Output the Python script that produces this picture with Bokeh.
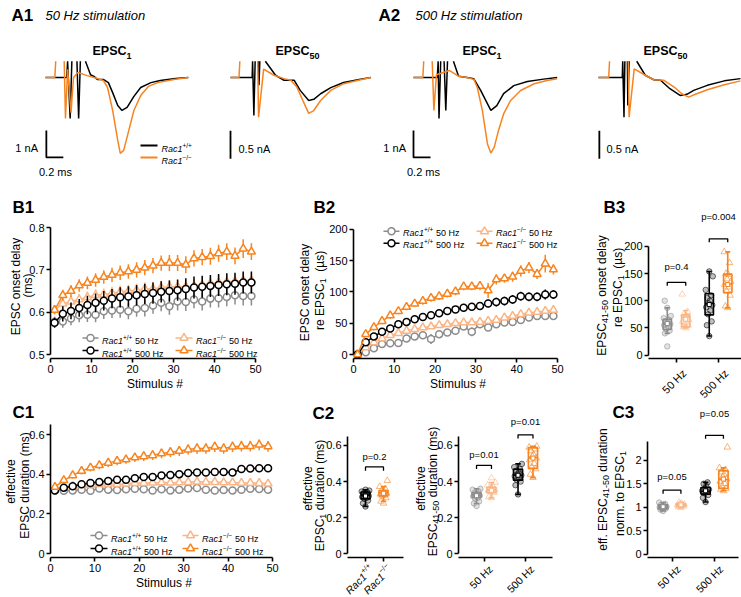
import numpy as np
from math import cos, sin, pi
from bokeh.plotting import figure
from bokeh.models import Label, Range1d, FixedTicker, GridBox
from bokeh.layouts import row, column
from bokeh.embed import file_html
from bokeh.resources import INLINE

nan = float("nan")

# ---------------- A: example EPSC traces (time in ms, current in nA) ----------------
A1_E1_T_WT = [0, 0.25, 0.26, 0.29, 0.31, nan, 0.37, 0.39, 0.41, nan, 0.47, 0.53, 0.57, 0.61, 0.68, 0.74, 0.79, 0.85, 0.90, 0.96, 1.04, 1.12, 1.24, 1.35, 1.53, 1.68]
A1_E1_I_WT = [0, 0, 0.6, -1.52, 0.6, nan, 0.6, -1.52, 0.6, nan, 0.6, 0.1, 0.04, -0.07, -0.07, -0.19, -0.56, -1.04, -1.22, -1.11, -0.70, -0.37, -0.19, -0.11, -0.04, 0]
A1_E1_T_KO = [0, 0.11, 0.12, nan, 0.22, 0.235, 0.26, 0.30, 0.33, 0.38, 0.49, 0.61, 0.68, 0.73, 0.79, 0.85, 0.88, 0.92, 0.98, 1.04, 1.12, 1.21, 1.32, 1.51, 1.68]
A1_E1_I_KO = [0, 0, 0.6, nan, 0.6, -1.52, 0.3, -1.3, 0.0, 0.19, 0.07, -0.04, -0.11, -0.37, -1.22, -2.33, -2.81, -2.70, -1.96, -1.22, -0.67, -0.33, -0.19, -0.07, 0]

A1_E50_T_WT = [0, 0.255, 0.26, 0.275, 0.29, nan, 0.33, 0.335, 0.345, nan, 0.41, 0.53, 0.63, 0.75, 0.82, 0.92, 0.98, 1.06, 1.18, 1.33, 1.53, 1.65]
A1_E50_I_WT = [0, 0, 0.29, -0.68, 0.29, nan, 0.29, -0.14, 0.29, nan, 0.29, 0.04, -0.05, -0.05, -0.23, -0.41, -0.39, -0.29, -0.18, -0.09, -0.03, 0]
A1_E50_T_KO = [0, 0.10, 0.11, nan, 0.32, 0.33, 0.39, 0.51, 0.63, 0.71, 0.78, 0.86, 0.92, 0.98, 1.06, 1.18, 1.33, 1.53, 1.65]
A1_E50_I_KO = [0, 0, 0.29, nan, 0.29, -0.71, 0.15, 0.04, -0.02, -0.05, -0.17, -0.44, -0.64, -0.59, -0.41, -0.23, -0.11, -0.04, 0]

A2_E1_T_WT = [0, 0.28, 0.29, 0.30, 0.32, nan, 0.36, 0.38, 0.40, nan, 0.47, 0.53, 0.63, 0.71, 0.79, 0.91, 0.98, 1.06, 1.18, 1.34, 1.53, 1.69]
A2_E1_I_WT = [0, 0, 0.6, -1.52, 0.6, nan, 0.6, -1.22, 0.6, nan, 0.6, 0.05, 0, -0.05, -0.48, -1.22, -1.04, -0.60, -0.30, -0.15, -0.06, 0]
A2_E1_T_KO = [0, 0.11, 0.12, nan, 0.22, 0.24, 0.27, 0.42, 0.53, 0.63, 0.71, 0.75, 0.81, 0.87, 0.91, 0.95, 1.00, 1.06, 1.14, 1.26, 1.42, 1.57, 1.69]
A2_E1_I_KO = [0, 0, 0.6, nan, 0.6, -1.22, 0.1, 0.26, 0.05, 0, -0.07, -0.36, -1.22, -2.46, -2.80, -2.58, -1.96, -1.35, -0.86, -0.48, -0.23, -0.11, -0.05]

A2_E50_T_WT = [0, 0.28, 0.285, 0.30, 0.31, nan, 0.34, 0.345, 0.36, nan, 0.45, 0.55, 0.65, 0.73, 0.84, 0.96, 1.04, 1.12, 1.28, 1.48, 1.67]
A2_E50_I_WT = [0, 0, 0.29, -0.71, 0.29, nan, 0.29, -0.5, 0.29, nan, 0.29, 0.04, -0.04, -0.05, -0.20, -0.32, -0.30, -0.23, -0.14, -0.06, -0.02]
A2_E50_T_KO = [0, 0.12, 0.13, nan, 0.35, 0.36, 0.42, 0.55, 0.65, 0.77, 0.89, 0.98, 1.06, 1.14, 1.28, 1.48, 1.67]
A2_E50_I_KO = [0, 0, 0.29, nan, 0.29, -0.71, 0.155, 0.04, -0.04, -0.05, -0.17, -0.29, -0.35, -0.30, -0.22, -0.13, -0.06]

SCALE_T = 0.2      # ms
SCALE_I1 = 1.0     # nA
SCALE_I50 = 0.5    # nA

# ---------------- B1 / B2 / C1: time courses (mean, SEM) ----------------
STIM = list(range(1, 50, 2))

B1_WT50 = [0.577, 0.578, 0.585, 0.593, 0.594, 0.594, 0.602, 0.604, 0.606, 0.602, 0.608, 0.610, 0.616, 0.622, 0.614, 0.625, 0.624, 0.630, 0.625, 0.632, 0.633, 0.636, 0.640, 0.638, 0.638]
B1_KO50 = [0.605, 0.620, 0.625, 0.630, 0.635, 0.640, 0.642, 0.645, 0.648, 0.650, 0.652, 0.655, 0.655, 0.658, 0.660, 0.660, 0.660, 0.662, 0.665, 0.668, 0.670, 0.672, 0.673, 0.675, 0.675]
B1_WT500 = [0.575, 0.596, 0.603, 0.610, 0.617, 0.622, 0.627, 0.632, 0.635, 0.637, 0.640, 0.643, 0.645, 0.648, 0.650, 0.652, 0.655, 0.658, 0.660, 0.662, 0.664, 0.666, 0.667, 0.670, 0.670]
B1_KO500 = [0.605, 0.640, 0.650, 0.663, 0.669, 0.676, 0.683, 0.688, 0.693, 0.696, 0.700, 0.705, 0.710, 0.716, 0.716, 0.716, 0.712, 0.727, 0.730, 0.732, 0.739, 0.743, 0.733, 0.750, 0.743]
B1_WT50_E = [0.012, 0.015, 0.016, 0.017, 0.017, 0.018, 0.018, 0.018, 0.019, 0.019, 0.019, 0.020, 0.020, 0.020, 0.020, 0.021, 0.021, 0.021, 0.021, 0.021, 0.022, 0.022, 0.022, 0.022, 0.022]
B1_KO50_E = [0.010, 0.012, 0.013, 0.013, 0.014, 0.014, 0.014, 0.015, 0.015, 0.015, 0.015, 0.015, 0.016, 0.016, 0.016, 0.016, 0.016, 0.016, 0.017, 0.017, 0.017, 0.017, 0.017, 0.017, 0.017]
B1_WT500_E = [0.012, 0.018, 0.020, 0.021, 0.022, 0.022, 0.023, 0.023, 0.024, 0.024, 0.024, 0.024, 0.025, 0.025, 0.025, 0.025, 0.025, 0.026, 0.026, 0.026, 0.026, 0.026, 0.026, 0.026, 0.026]
B1_KO500_E = [0.010, 0.013, 0.014, 0.015, 0.015, 0.016, 0.016, 0.017, 0.017, 0.017, 0.018, 0.018, 0.018, 0.018, 0.019, 0.019, 0.020, 0.019, 0.019, 0.020, 0.020, 0.020, 0.020, 0.022, 0.020]

B2_WT50 = [0, 3.7, 10, 16.8, 17.9, 18.4, 25.8, 29, 31, 24.7, 32.6, 35.3, 37.9, 44.8, 36.4, 48.5, 43.2, 48.5, 51.2, 52.2, 55.4, 59.1, 61.7, 61.7, 61.7]
B2_KO50 = [0, 11.5, 19.5, 25.8, 31, 34.2, 37.9, 40.5, 43.2, 44.8, 46.9, 48.5, 50.1, 51.2, 51.2, 52.2, 53.8, 55.4, 59.1, 61.7, 64.4, 67, 68, 69.6, 71.2]
B2_WT500 = [0, 19.6, 29, 36.4, 41.6, 48.5, 52.2, 56.4, 60, 62.7, 65.9, 69.5, 72.2, 74.8, 76.4, 77.5, 81.7, 83.8, 85.4, 88, 93.3, 92.2, 92.2, 95.9, 95.9]
B2_KO500 = [0, 32.6, 43.6, 53.5, 62.4, 69.3, 76, 81.3, 85.5, 90.3, 93, 97, 100.7, 108.6, 108.6, 109.7, 102.4, 120, 121.7, 124.3, 133.7, 139, 128.6, 145.3, 135.9]
B2_WT50_E = [0, 2, 3, 3, 3, 4, 4, 4, 4, 8, 4, 4, 4, 5, 7, 5, 5, 5, 5, 5, 5, 5, 5, 6, 6]
B2_KO50_E = [0, 2, 2, 3, 3, 3, 3, 3, 3, 3, 3, 3, 3, 3, 3, 3, 4, 4, 4, 4, 4, 4, 4, 4, 4]
B2_WT500_E = [0, 3, 4, 4, 4, 4, 4, 5, 5, 5, 5, 5, 5, 6, 6, 6, 6, 7, 7, 7, 7, 7, 7, 8, 7]
B2_KO500_E = [0, 4, 5, 5, 5, 5, 5, 5, 6, 6, 6, 6, 6, 6, 6, 7, 12, 8, 7, 8, 9, 9, 8, 14, 8]

C1_WT50 = [0.318, 0.316, 0.318, 0.322, 0.316, 0.328, 0.322, 0.320, 0.324, 0.326, 0.324, 0.318, 0.324, 0.318, 0.322, 0.328, 0.330, 0.322, 0.318, 0.320, 0.318, 0.322, 0.326, 0.325, 0.322]
C1_KO50 = [0.330, 0.335, 0.340, 0.345, 0.345, 0.350, 0.350, 0.350, 0.352, 0.355, 0.355, 0.357, 0.358, 0.357, 0.358, 0.360, 0.362, 0.360, 0.360, 0.358, 0.358, 0.356, 0.356, 0.355, 0.352]
C1_WT500 = [0.318, 0.332, 0.339, 0.349, 0.355, 0.360, 0.366, 0.372, 0.372, 0.379, 0.386, 0.386, 0.393, 0.396, 0.400, 0.406, 0.409, 0.409, 0.411, 0.411, 0.408, 0.426, 0.428, 0.430, 0.430]
C1_KO500 = [0.335, 0.369, 0.394, 0.416, 0.433, 0.445, 0.457, 0.467, 0.474, 0.484, 0.490, 0.495, 0.504, 0.511, 0.517, 0.524, 0.529, 0.529, 0.538, 0.529, 0.538, 0.541, 0.541, 0.548, 0.540]
C1_WT50_E = [0.006, 0.006, 0.006, 0.007, 0.006, 0.007, 0.007, 0.006, 0.007, 0.007, 0.007, 0.006, 0.007, 0.007, 0.007, 0.007, 0.007, 0.007, 0.007, 0.007, 0.007, 0.007, 0.007, 0.007, 0.007]
C1_KO50_E = [0.008, 0.009, 0.010, 0.010, 0.010, 0.011, 0.011, 0.011, 0.011, 0.012, 0.012, 0.012, 0.012, 0.012, 0.012, 0.012, 0.013, 0.013, 0.013, 0.013, 0.013, 0.013, 0.013, 0.013, 0.013]
C1_WT500_E = [0.006, 0.007, 0.007, 0.008, 0.008, 0.008, 0.008, 0.008, 0.009, 0.009, 0.009, 0.009, 0.009, 0.009, 0.009, 0.009, 0.010, 0.010, 0.010, 0.010, 0.010, 0.010, 0.010, 0.010, 0.010]
C1_KO500_E = [0.010, 0.014, 0.016, 0.018, 0.019, 0.020, 0.021, 0.022, 0.022, 0.023, 0.023, 0.024, 0.024, 0.025, 0.025, 0.025, 0.026, 0.026, 0.026, 0.026, 0.026, 0.027, 0.027, 0.027, 0.027]

# ---------------- box plots: [low whisker, Q1, median, Q3, high whisker], mean, points ----------------
B3_WT50_BOX = [40, 47, 57, 66, 87];      B3_WT50_MEAN = 58
B3_WT50_PTS = [16, 40, 45, 48, 52, 55, 57, 58, 60, 62, 65, 68, 72, 87, 100]
B3_KO50_BOX = [50, 52, 70, 74, 82];      B3_KO50_MEAN = 66
B3_KO50_PTS = [50, 52, 55, 58, 60, 62, 65, 68, 72, 76, 80, 112]
B3_WT500_BOX = [35, 74, 95, 113, 154];   B3_WT500_MEAN = 93
B3_WT500_PTS = [35, 55, 62, 75, 82, 88, 92, 95, 100, 105, 110, 120, 145, 154]
B3_KO500_BOX = [87, 115, 131, 149, 190];  B3_KO500_MEAN = 130
B3_KO500_PTS = [87, 90, 110, 118, 125, 130, 135, 140, 148, 150, 170, 190]
B3_P = ["p=0.4", "p=0.004"]
B3_P_LEVEL = [134, 214]

C2A_WT_BOX = [0.262, 0.304, 0.325, 0.342, 0.355];  C2A_WT_MEAN = 0.320
C2A_WT_PTS = [0.262, 0.280, 0.295, 0.305, 0.310, 0.315, 0.320, 0.325, 0.330, 0.335, 0.340, 0.345, 0.350, 0.355]
C2A_KO_BOX = [0.291, 0.321, 0.338, 0.350, 0.372];  C2A_KO_MEAN = 0.335
C2A_KO_PTS = [0.280, 0.291, 0.310, 0.320, 0.325, 0.330, 0.335, 0.340, 0.345, 0.350, 0.360, 0.372, 0.405]
C2A_P = "p=0.2"
C2A_P_LEVEL = 0.481

C2B_WT50_BOX = [0.279, 0.313, 0.326, 0.338, 0.360];  C2B_WT50_MEAN = 0.322
C2B_WT50_PTS = [0.265, 0.279, 0.290, 0.305, 0.310, 0.318, 0.322, 0.328, 0.332, 0.338, 0.345, 0.355, 0.360]
C2B_KO50_BOX = [0.310, 0.338, 0.355, 0.368, 0.395];  C2B_KO50_MEAN = 0.352
C2B_KO50_PTS = [0.310, 0.315, 0.340, 0.345, 0.350, 0.352, 0.355, 0.358, 0.360, 0.365, 0.370, 0.380, 0.395, 0.420]
C2B_WT500_BOX = [0.329, 0.408, 0.436, 0.468, 0.498];  C2B_WT500_MEAN = 0.435
C2B_WT500_PTS = [0.329, 0.380, 0.400, 0.410, 0.420, 0.430, 0.435, 0.440, 0.450, 0.460, 0.470, 0.480, 0.498]
C2B_KO500_BOX = [0.422, 0.473, 0.532, 0.588, 0.595];  C2B_KO500_MEAN = 0.530
C2B_KO500_PTS = [0.422, 0.440, 0.470, 0.480, 0.500, 0.520, 0.530, 0.540, 0.550, 0.570, 0.580, 0.590, 0.595]
C2B_P = ["p=0.01", "p=0.01"]
C2B_P_LEVEL = [0.49, 0.659]

C3_WT50_BOX = [0.92, 0.97, 1.00, 1.05, 1.10];  C3_WT50_MEAN = 1.01
C3_WT50_PTS = [0.92, 0.95, 0.97, 0.98, 0.99, 1.00, 1.01, 1.02, 1.03, 1.05, 1.07, 1.10]
C3_KO50_BOX = [0.99, 1.02, 1.05, 1.08, 1.10];  C3_KO50_MEAN = 1.05
C3_KO50_PTS = [0.99, 1.01, 1.02, 1.03, 1.04, 1.05, 1.06, 1.07, 1.08, 1.10]
C3_WT500_BOX = [1.11, 1.28, 1.34, 1.42, 1.53];  C3_WT500_MEAN = 1.35
C3_WT500_PTS = [1.11, 1.20, 1.26, 1.30, 1.33, 1.35, 1.38, 1.40, 1.45, 1.50, 1.53]
C3_KO500_BOX = [1.35, 1.40, 1.59, 1.78, 1.84];  C3_KO500_MEAN = 1.60
C3_KO500_PTS = [1.35, 1.38, 1.40, 1.45, 1.50, 1.55, 1.60, 1.65, 1.70, 1.75, 1.80, 1.84, 2.28]
C3_P = ["p=0.05", "p=0.05"]
C3_P_LEVEL = [1.363, 2.532]

FREQ_LABELS = ["50 Hz", "500 Hz"]
GENO = "Rac1"
GENO_SUP = ["+/+", "\u2212/\u2212"]
X_TITLE = "Stimulus #"

# ---------------- style ----------------
GRAY = "#8c8c8c"
LOR = "#fbb584"
BLACK = "#000000"
ORANGE = "#f7841f"
FONT = "Liberation Sans"
W, H = 741, 597

WREG = {' ': 278, '!': 278, '#': 556, '(': 333, ')': 333, '+': 584, '-': 333, '.': 278, '/': 278,
        '=': 584, 'A': 667, 'B': 667, 'C': 722, 'E': 667, 'H': 722, 'P': 667, 'R': 722, 'S': 667,
        'a': 556, 'c': 500, 'd': 556, 'e': 556, 'f': 278, 'i': 222, 'l': 222, 'm': 833, 'n': 556,
        'o': 556, 'p': 556, 'r': 333, 's': 500, 't': 278, 'u': 556, 'v': 500, 'y': 500, 'z': 500,
        '\u00b5': 556, '\u2212': 584}
WBOLD = {'A': 722, 'B': 722, 'C': 722, 'E': 667, 'P': 667, 'S': 667, ' ': 278}


def tw(s, size, bold=False):
    tot = 0
    for ch in s:
        if bold and ch in WBOLD:
            tot += WBOLD[ch]
        else:
            tot += WREG.get(ch, 556)
    return tot * size / 1000.0


def bare(p):
    p.grid.visible = False
    p.outline_line_color = None


class Panel:
    def __init__(self, canvas, frame, xmap, ymap, axes=True):
        cx0, cy0, cx1, cy1 = canvas
        fx0, fy0, fx1, fy1 = frame
        xd0, xp0, xd1, xp1 = xmap
        yd0, yp0, yd1, yp1 = ymap
        self.ax = (xd1 - xd0) / (xp1 - xp0)
        self.xd0, self.xp0 = xd0, xp0
        self.ay = (yd1 - yd0) / (yp1 - yp0)
        self.yd0, self.yp0 = yd0, yp0
        self.p = figure(width=int(cx1 - cx0), height=int(cy1 - cy0),
                        x_range=Range1d(self.dx(fx0), self.dx(fx1)),
                        y_range=Range1d(self.dy(fy1), self.dy(fy0)),
                        output_backend="svg", toolbar_location=None,
                        x_axis_location="below" if axes else None,
                        y_axis_location="left" if axes else None,
                        min_border_left=int(fx0 - cx0), min_border_right=int(cx1 - fx1),
                        min_border_top=int(fy0 - cy0), min_border_bottom=int(cy1 - fy1))
        bare(self.p)
        self.p.title.visible = False
        self.p.background_fill_color = "white"
        self.p.border_fill_color = "white"

    def dx(self, px):
        return self.xd0 + (px - self.xp0) * self.ax

    def dy(self, py):
        return self.yd0 + (py - self.yp0) * self.ay

    def sx(self, d):
        return self.xp0 + (d - self.xd0) / self.ax

    def sy(self, d):
        return self.yp0 + (d - self.yd0) / self.ay


# transparent text layer laid over the whole page (data units = page pixels)
ov = figure(width=W, height=H, x_range=Range1d(0, W), y_range=Range1d(H, 0),
            output_backend="svg", toolbar_location=None, x_axis_location=None, y_axis_location=None,
            min_border=0, min_border_left=0, min_border_right=0, min_border_top=0, min_border_bottom=0)
bare(ov)
ov.title.visible = False
ov.background_fill_color = None
ov.border_fill_color = None


def rich(x, y, segs, angle=0.0, align="left", vmid=False, color="black"):
    d = (cos(angle), -sin(angle))
    u = (-sin(angle), -cos(angle))
    ws = [tw(t, s, "bold" in st) for (t, s, st, sh) in segs]
    tot = sum(ws)
    if vmid:
        m = 0.36 * segs[0][1]
        x, y = x - u[0] * m, y - u[1] * m
    off = {"left": 0.0, "center": -tot / 2.0, "right": -tot}[align]
    for (t, s, st, sh), w in zip(segs, ws):
        lead = len(t) - len(t.lstrip(" "))
        o = off + tw(" " * lead, s)
        px = x + d[0] * o + u[0] * sh
        py = y + d[1] * o + u[1] * sh
        ov.add_layout(Label(x=px, y=py, text=t.lstrip(" "), angle=angle,
                            text_align="left", text_baseline="alphabetic",
                            text_font=FONT, text_font_size=f"{s}px",
                            text_font_style=st, text_color=color))
        off += w


def style_axes(pn, xticks, yticks, xb=None, yb=None, xover=None, yover=None, xlabel=None):
    p = pn.p
    for ax, ticks, b, ovr in ((p.xaxis[0], xticks, xb, xover), (p.yaxis[0], yticks, yb, yover)):
        ax.ticker = FixedTicker(ticks=ticks, minor_ticks=[])
        if b is not None:
            ax.bounds = b
        if ovr:
            ax.major_label_overrides = ovr
        ax.axis_line_width = 1.6
        ax.axis_line_color = "black"
        ax.major_tick_line_width = 1.6
        ax.major_tick_line_color = "black"
        ax.major_tick_in = 0
        ax.major_tick_out = 4
        ax.minor_tick_line_color = None
        ax.major_label_text_font = FONT
        ax.major_label_text_font_size = "11px"
        ax.major_label_text_color = "black"
        ax.major_label_standoff = 2
    if xlabel:
        ax = p.xaxis[0]
        ax.axis_label = xlabel
        ax.axis_label_text_font = FONT
        ax.axis_label_text_font_size = "12px"
        ax.axis_label_text_font_style = "normal"
        ax.axis_label_text_color = "black"
        ax.axis_label_standoff = 1


def series(pn, xs, ys, es, color, marker, size):
    p = pn.p
    xs = np.array(xs, dtype=float)
    ys = np.array(ys, dtype=float)
    es = np.array(es, dtype=float)
    p.segment(xs, ys - es, xs, ys + es, line_color=color, line_width=1.5)
    p.line(xs, ys, line_color=color, line_width=1.5)
    p.scatter(xs, ys, marker=marker, size=size, line_color=color, fill_color="white", line_width=1.5)


def legend_item(pn, x0, x1, y, color, marker, size, sup, freq):
    p = pn.p
    p.line([pn.dx(x0), pn.dx(x1)], [pn.dy(y), pn.dy(y)], line_color=color, line_width=1.5)
    p.scatter([pn.dx((x0 + x1) / 2.0)], [pn.dy(y)], marker=marker, size=size, line_color=color,
              fill_color="white", line_width=1.5)
    rich(x1 + 3.5, y, [(GENO, 9, "italic", 0), (sup, 6.5, "normal", 3.5), (" " + freq, 9, "normal", 0)], vmid=True)


def legend4(pn, r1, r2, c1a, c1b, c2a, c2b):
    legend_item(pn, c1a, c1b, r1, GRAY, "circle", 7, GENO_SUP[0], FREQ_LABELS[0])
    legend_item(pn, c2a, c2b, r1, LOR, "triangle", 8, GENO_SUP[1], FREQ_LABELS[0])
    legend_item(pn, c1a, c1b, r2, BLACK, "circle", 7, GENO_SUP[0], FREQ_LABELS[1])
    legend_item(pn, c2a, c2b, r2, ORANGE, "triangle", 8, GENO_SUP[1], FREQ_LABELS[1])


JIT = [0.0, -0.28, 0.28, -0.14, 0.14, -0.36, 0.36, -0.07, 0.07, -0.21, 0.21, -0.42, 0.42, 0.0, -0.3]


def boxplot(pn, xc, bw, box, mean, pts, color, marker):
    p = pn.p
    lo, q1, med, q3, hi = box
    xs = [xc + bw * JIT[i % len(JIT)] for i in range(len(pts))]
    if marker == "circle":
        p.scatter(xs, pts, marker=marker, size=5.5, line_color=color, fill_color=color,
                  fill_alpha=0.25, line_alpha=0.55, line_width=1)
    else:
        p.scatter(xs, pts, marker=marker, size=6.5, line_color=color, fill_color=None,
                  line_alpha=0.6, line_width=1)
    p.quad(left=[xc - bw / 2], right=[xc + bw / 2], bottom=[q1], top=[q3], fill_color=None,
           line_color=color, line_width=1.6)
    p.segment([xc, xc], [lo, q3], [xc, xc], [q1, hi], line_color=color, line_width=1.6)
    cap = bw * 0.3
    p.segment([xc - cap, xc - cap], [lo, hi], [xc + cap, xc + cap], [lo, hi], line_color=color, line_width=1.6)
    p.segment([xc - bw / 2], [med], [xc + bw / 2], [med], line_color=color, line_width=1.6)
    p.scatter([xc], [mean], marker="square", size=4, line_color=color, fill_color="white", line_width=1)


def bracket(pn, x1, x2, level, text):
    h = 4 * abs(pn.ay)
    pn.p.line([x1, x1, x2, x2], [level - h, level, level, level - h], line_color="black", line_width=1.3)
    rich((pn.sx(x1) + pn.sx(x2)) / 2.0, pn.sy(level) - 2.5, [(text, 9.5, "normal", 0)], align="center")


def rot_ticklabel(pn, xval, axis_y, segs, dx=5, dy=10):
    rich(pn.sx(xval) + dx, axis_y + dy, segs, angle=pi / 4, align="right", vmid=True)


def trace_panel(canvas, t0px, px_per_nA, wt_t, wt_i, ko_t, ko_i):
    pn = Panel(canvas, canvas, (0, t0px, 1, t0px + 85), (0, 77, -1, 77 + px_per_nA), axes=False)
    pn.p.line(np.array(wt_t, dtype=float), np.array(wt_i, dtype=float), line_color=BLACK, line_width=1.5)
    pn.p.line(np.array(ko_t, dtype=float), np.array(ko_i, dtype=float), line_color=ORANGE, line_width=1.5)
    return pn


def scalebar(pn, t0, i0, dt, di):
    if dt > 0:
        pn.p.line([t0, t0, t0 + dt], [i0 + di, i0, i0], line_color="black", line_width=1.8)
    else:
        pn.p.line([t0, t0], [i0 + di, i0], line_color="black", line_width=1.8)


# ================= ROW A =================
a1a = trace_panel((0, 0, 195, 174), 45, 27, A1_E1_T_WT, A1_E1_I_WT, A1_E1_T_KO, A1_E1_I_KO)
scalebar(a1a, 0.01, -2.96, SCALE_T, SCALE_I1)
rich(11, 15, [("A1", 17, "bold", 0)])
rich(45, 14.5, [("50 Hz stimulation", 13, "italic", 0)])
rich(92, 50, [("EPSC", 12.5, "bold", 0), ("1", 9, "bold", -5)])
rich(37.5, 144, [(f"{SCALE_I1:g} nA", 11, "normal", 0)], align="right", vmid=True)
rich(55, 171, [(f"{SCALE_T:g} ms", 11, "normal", 0)], align="center")
a1a.p.line([a1a.dx(140), a1a.dx(157)], [a1a.dy(145)] * 2, line_color=BLACK, line_width=1.8)
a1a.p.line([a1a.dx(140), a1a.dx(157)], [a1a.dy(157)] * 2, line_color=ORANGE, line_width=1.8)
rich(161, 145, [(GENO, 9, "italic", 0), (GENO_SUP[0], 6.5, "normal", 3.5)], vmid=True)
rich(161, 157, [(GENO, 9, "italic", 0), (GENO_SUP[1], 6.5, "normal", 3.5)], vmid=True)

a1b = trace_panel((195, 0, 375, 174), 230, 56, A1_E50_T_WT, A1_E50_I_WT, A1_E50_T_KO, A1_E50_I_KO)
scalebar(a1b, 0.0, -1.45, 0, SCALE_I50)
rich(275, 50, [("EPSC", 12.5, "bold", 0), ("50", 9, "bold", -5)])
rich(238, 145, [(f"{SCALE_I50:g} nA", 11, "normal", 0)], vmid=True)

a2a = trace_panel((375, 0, 575, 174), 413, 27, A2_E1_T_WT, A2_E1_I_WT, A2_E1_T_KO, A2_E1_I_KO)
scalebar(a2a, 0.0, -2.96, SCALE_T, SCALE_I1)
rich(378, 15, [("A2", 17, "bold", 0)])
rich(415, 14.5, [("500 Hz stimulation", 13, "italic", 0)])
rich(462, 50, [("EPSC", 12.5, "bold", 0), ("1", 9, "bold", -5)])
rich(405.5, 144, [(f"{SCALE_I1:g} nA", 11, "normal", 0)], align="right", vmid=True)
rich(423, 171, [(f"{SCALE_T:g} ms", 11, "normal", 0)], align="center")

a2b = trace_panel((575, 0, 741, 174), 598, 56, A2_E50_T_WT, A2_E50_I_WT, A2_E50_T_KO, A2_E50_I_KO)
scalebar(a2b, 0.01, -1.45, 0, SCALE_I50)
rich(643, 50, [("EPSC", 12.5, "bold", 0), ("50", 9, "bold", -5)])
rich(606, 145, [(f"{SCALE_I50:g} nA", 11, "normal", 0)], vmid=True)

# ================= ROW B =================
STIM_TICKS = [0, 10, 20, 30, 40, 50]

b1 = Panel((0, 174, 285, 395), (50, 222, 259, 358), (0, 50, 50, 255), (0.5, 354, 0.8, 227))
style_axes(b1, STIM_TICKS, [0.5, 0.6, 0.7, 0.8], (0, 50), (0.5, 0.8), xlabel=X_TITLE)
series(b1, STIM, B1_WT50, B1_WT50_E, GRAY, "circle", 7)
series(b1, STIM, B1_KO50, B1_KO50_E, LOR, "triangle", 8)
series(b1, STIM, B1_WT500, B1_WT500_E, BLACK, "circle", 7)
series(b1, STIM, B1_KO500, B1_KO500_E, ORANGE, "triangle", 8)
legend4(b1, 337.5, 350, 82, 98, 175, 192)
rich(12, 207, [("B1", 17, "bold", 0)])
rich(11, 286, [("EPSC onset delay", 12, "normal", 0)], angle=pi / 2, align="center", vmid=True)
rich(23.5, 285, [("(ms)", 12, "normal", 0)], angle=pi / 2, align="center", vmid=True)

b2 = Panel((285, 174, 580, 395), (353, 220, 562, 358), (0, 353, 50, 557), (0, 354, 200, 227))
style_axes(b2, STIM_TICKS, [0, 50, 100, 150, 200], (0, 50), (0, 200), xlabel=X_TITLE)
series(b2, STIM, B2_WT50, B2_WT50_E, GRAY, "circle", 7)
series(b2, STIM, B2_KO50, B2_KO50_E, LOR, "triangle", 8)
series(b2, STIM, B2_WT500, B2_WT500_E, BLACK, "circle", 7)
series(b2, STIM, B2_KO500, B2_KO500_E, ORANGE, "triangle", 8)
legend4(b2, 229, 241, 383, 399, 476, 492)
rich(313, 207, [("B2", 17, "bold", 0)])
rich(300.5, 292, [("EPSC onset delay", 12, "normal", 0)], angle=pi / 2, align="center", vmid=True)
rich(315, 290, [("re EPSC", 12, "normal", 0), ("1", 9, "normal", -3.5), ("  (\u00b5s)", 12, "normal", 0)],
     angle=pi / 2, align="center", vmid=True)

OFF3 = 0.22
b3 = Panel((580, 174, 741, 395), (648, 199, 741, 358), (1, 676, 2, 718), (0, 354, 200, 227))
style_axes(b3, [1, 2], [0, 50, 100, 150, 200], None, (0, 200), {1: "", 2: ""})
boxplot(b3, 1 - OFF3, 0.2, B3_WT50_BOX, B3_WT50_MEAN, B3_WT50_PTS, GRAY, "circle")
boxplot(b3, 1 + OFF3, 0.2, B3_KO50_BOX, B3_KO50_MEAN, B3_KO50_PTS, LOR, "triangle")
boxplot(b3, 2 - OFF3, 0.2, B3_WT500_BOX, B3_WT500_MEAN, B3_WT500_PTS, BLACK, "circle")
boxplot(b3, 2 + OFF3, 0.2, B3_KO500_BOX, B3_KO500_MEAN, B3_KO500_PTS, ORANGE, "triangle")
bracket(b3, 1 - OFF3, 1 + OFF3, B3_P_LEVEL[0], B3_P[0])
bracket(b3, 2 - OFF3, 2 + OFF3, B3_P_LEVEL[1], B3_P[1])
rot_ticklabel(b3, 1, 358, [(FREQ_LABELS[0], 11, "normal", 0)])
rot_ticklabel(b3, 2, 358, [(FREQ_LABELS[1], 11, "normal", 0)])
rich(603, 207, [("B3", 17, "bold", 0)])
rich(597, 295, [("EPSC", 12, "normal", 0), ("41-50", 9, "normal", -3.5), (" onset delay", 12, "normal", 0)],
     angle=pi / 2, align="center", vmid=True)
rich(613, 287, [("re EPSC", 12, "normal", 0), ("1", 9, "normal", -3.5), ("  (\u00b5s)", 12, "normal", 0)],
     angle=pi / 2, align="center", vmid=True)

# ================= ROW C =================
DUR_TICKS = [0, 0.2, 0.4, 0.6]
DUR_OVER = {0: "0", 0.2: "0.2", 0.4: "0.4", 0.6: "0.6"}

c1 = Panel((0, 395, 290, 597), (50, 422, 277, 557), (0, 50, 50, 272), (0, 553, 0.6, 434))
style_axes(c1, STIM_TICKS, DUR_TICKS, (0, 50), (0, 0.65), None, DUR_OVER, xlabel=X_TITLE)
series(c1, STIM, C1_WT50, C1_WT50_E, GRAY, "circle", 7)
series(c1, STIM, C1_KO50, C1_KO50_E, LOR, "triangle", 8)
series(c1, STIM, C1_WT500, C1_WT500_E, BLACK, "circle", 7)
series(c1, STIM, C1_KO500, C1_KO500_E, ORANGE, "triangle", 8)
legend4(c1, 535, 548, 90, 107, 182, 198)
rich(12, 412, [("C1", 17, "bold", 0)])
rich(6.5, 481, [("effective", 12, "normal", 0)], angle=pi / 2, align="center", vmid=True)
rich(20, 485, [("EPSC duration (ms)", 12, "normal", 0)], angle=pi / 2, align="center", vmid=True)

c2a = Panel((290, 395, 404, 597), (347, 410, 403, 557), (1, 365, 2, 383), (0, 553, 0.6, 435))
style_axes(c2a, [1, 2], DUR_TICKS, None, (0, 0.65), {1: "", 2: ""}, DUR_OVER)
boxplot(c2a, 1, 0.5, C2A_WT_BOX, C2A_WT_MEAN, C2A_WT_PTS, BLACK, "circle")
boxplot(c2a, 2, 0.5, C2A_KO_BOX, C2A_KO_MEAN, C2A_KO_PTS, ORANGE, "triangle")
bracket(c2a, 1, 2, C2A_P_LEVEL, C2A_P)
rot_ticklabel(c2a, 1, 557, [(GENO, 10.5, "italic", 0), (GENO_SUP[0], 7.5, "normal", 4)], dx=4, dy=7)
rot_ticklabel(c2a, 2, 557, [(GENO, 10.5, "italic", 0), (GENO_SUP[1], 7.5, "normal", 4)], dx=4, dy=7)
rich(312, 413, [("C2", 17, "bold", 0)])
rich(303, 488, [("effective", 12, "normal", 0)], angle=pi / 2, align="center", vmid=True)
rich(315, 495, [("EPSC", 12, "normal", 0), ("1", 9, "normal", -3.5), (" duration (ms)", 12, "normal", 0)],
     angle=pi / 2, align="center", vmid=True)

OFF2 = 0.18
c2b = Panel((404, 395, 580, 597), (458, 410, 552, 557), (1, 483.5, 2, 525), (0, 553, 0.6, 435))
style_axes(c2b, [1, 2], DUR_TICKS, None, (0, 0.65), {1: "", 2: ""}, DUR_OVER)
boxplot(c2b, 1 - OFF2, 0.22, C2B_WT50_BOX, C2B_WT50_MEAN, C2B_WT50_PTS, GRAY, "circle")
boxplot(c2b, 1 + OFF2, 0.22, C2B_KO50_BOX, C2B_KO50_MEAN, C2B_KO50_PTS, LOR, "triangle")
boxplot(c2b, 2 - OFF2, 0.22, C2B_WT500_BOX, C2B_WT500_MEAN, C2B_WT500_PTS, BLACK, "circle")
boxplot(c2b, 2 + OFF2, 0.22, C2B_KO500_BOX, C2B_KO500_MEAN, C2B_KO500_PTS, ORANGE, "triangle")
bracket(c2b, 1 - OFF2, 1 + OFF2, C2B_P_LEVEL[0], C2B_P[0])
bracket(c2b, 2 - OFF2, 2 + OFF2, C2B_P_LEVEL[1], C2B_P[1])
rot_ticklabel(c2b, 1, 557, [(FREQ_LABELS[0], 10.5, "normal", 0)], dx=4, dy=7)
rot_ticklabel(c2b, 2, 557, [(FREQ_LABELS[1], 10.5, "normal", 0)], dx=4, dy=7)
rich(416.5, 488, [("effective", 12, "normal", 0)], angle=pi / 2, align="center", vmid=True)
rich(428, 491, [("EPSC", 12, "normal", 0), ("41-50", 9, "normal", -3.5), (" duration (ms)", 12, "normal", 0)],
     angle=pi / 2, align="center", vmid=True)

OFFC3 = 0.21
c3 = Panel((580, 395, 741, 597), (647, 400, 738, 557), (1, 671.5, 2, 714), (0, 553, 2, 444))
style_axes(c3, [1, 2], [0, 0.5, 1, 1.5, 2], None, (0, 2.4), {1: "", 2: ""},
           {0: "0", 0.5: "0.5", 1: "1", 1.5: "1.5", 2: "2"})
boxplot(c3, 1 - OFFC3, 0.22, C3_WT50_BOX, C3_WT50_MEAN, C3_WT50_PTS, GRAY, "circle")
boxplot(c3, 1 + OFFC3, 0.22, C3_KO50_BOX, C3_KO50_MEAN, C3_KO50_PTS, LOR, "triangle")
boxplot(c3, 2 - OFFC3, 0.22, C3_WT500_BOX, C3_WT500_MEAN, C3_WT500_PTS, BLACK, "circle")
boxplot(c3, 2 + OFFC3, 0.22, C3_KO500_BOX, C3_KO500_MEAN, C3_KO500_PTS, ORANGE, "triangle")
bracket(c3, 1 - OFFC3, 1 + OFFC3, C3_P_LEVEL[0], C3_P[0])
bracket(c3, 2 - OFFC3, 2 + OFFC3, C3_P_LEVEL[1], C3_P[1])
rot_ticklabel(c3, 1, 557, [(FREQ_LABELS[0], 10.5, "normal", 0)], dx=4, dy=7)
rot_ticklabel(c3, 2, 557, [(FREQ_LABELS[1], 10.5, "normal", 0)], dx=4, dy=7)
rich(612, 412, [("C3", 17, "bold", 0)])
rich(598, 489, [("eff. EPSC", 12, "normal", 0), ("41-50", 9, "normal", -3.5), (" duration", 12, "normal", 0)],
     angle=pi / 2, align="center", vmid=True)
rich(615, 493, [("norm. to EPSC", 12, "normal", 0), ("1", 9, "normal", -3.5)],
     angle=pi / 2, align="center", vmid=True)

main = column(row(a1a.p, a1b.p, a2a.p, a2b.p),
              row(b1.p, b2.p, b3.p),
              row(c1.p, c2a.p, c2b.p, c3.p))

page = GridBox(children=[(main, 0, 0), (ov, 0, 0)])

open("out.html", "w").write(file_html(page, INLINE))
